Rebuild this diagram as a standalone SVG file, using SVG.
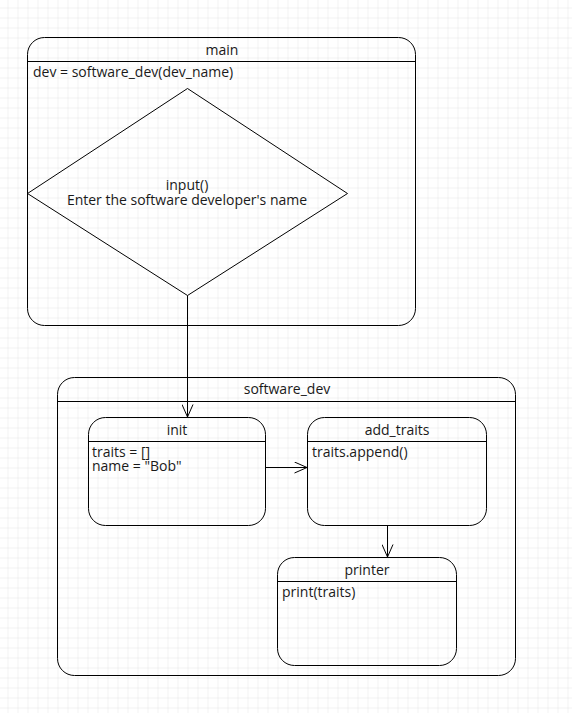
<svg xmlns="http://www.w3.org/2000/svg" width="572" height="713" viewBox="0 0 572 713">
  <defs>
    <pattern id="grid" x="7.5" y="7.5" width="10" height="10" patternUnits="userSpaceOnUse">
      <path d="M0,0 H10 M0,0 V10" fill="none" stroke="#e6e6e6" stroke-width="1"/>
    </pattern>
    <marker id="open-arrow" viewBox="0 0 14 12" refX="13" refY="6" markerWidth="14" markerHeight="12" markerUnits="userSpaceOnUse" orient="auto">
      <path d="M0.5,0.5 L13,6 L0.5,11.5" fill="none" stroke="#000" stroke-width="1"/>
    </marker>
  </defs>
  <style>
    .box { fill: none; stroke: #000; stroke-width: 1; }
    .sep { stroke: #000; stroke-width: 1; }
    .edge { fill: none; stroke: #000; stroke-width: 1; marker-end: url(#open-arrow); }
    text { font-family: "Open Sans", "Noto Sans", "DejaVu Sans", sans-serif; font-size: 14px; fill: #1a1a1a; }
    .title { text-anchor: middle; }
  </style>

  <rect x="0" y="0" width="572" height="713" fill="#ffffff"/>
  <rect x="0" y="0" width="572" height="713" fill="url(#grid)"/>

  <!-- main swimlane -->
  <g id="main">
    <rect class="box" x="27.5" y="37.5" width="388" height="288" rx="17" ry="17"/>
    <line class="sep" x1="27.5" y1="61.5" x2="415.5" y2="61.5"/>
    <text class="title" x="222" y="55">main</text>
    <text x="33" y="77">dev = software_dev(dev_name)</text>
  </g>

  <!-- input decision -->
  <g id="input">
    <polygon class="box" points="187.5,88.5 347.5,193.5 187.5,295.5 27.5,193.5"/>
    <text class="title" x="187" y="190">input()</text>
    <text class="title" x="187" y="205">Enter the software developer's name</text>
  </g>

  <!-- software_dev swimlane -->
  <g id="software_dev">
    <rect class="box" x="57.5" y="377.5" width="458" height="298" rx="17" ry="17"/>
    <line class="sep" x1="57.5" y1="401.5" x2="515.5" y2="401.5"/>
    <text class="title" x="287" y="394">software_dev</text>
  </g>

  <g id="init">
    <rect class="box" x="88.5" y="417.5" width="177" height="108" rx="17" ry="17"/>
    <line class="sep" x1="88.5" y1="441.5" x2="265.5" y2="441.5"/>
    <text class="title" x="177" y="435">init</text>
    <text x="92" y="457">traits = []</text>
    <text x="92" y="471">name = "Bob"</text>
  </g>

  <g id="add_traits">
    <rect class="box" x="307.5" y="417.5" width="179" height="108" rx="17" ry="17"/>
    <line class="sep" x1="307.5" y1="441.5" x2="486.5" y2="441.5"/>
    <text class="title" x="397" y="435">add_traits</text>
    <text x="312" y="457">traits.append()</text>
  </g>

  <g id="printer">
    <rect class="box" x="277.5" y="557.5" width="179" height="108" rx="17" ry="17"/>
    <line class="sep" x1="277.5" y1="581.5" x2="456.5" y2="581.5"/>
    <text class="title" x="367" y="575">printer</text>
    <text x="282" y="597">print(traits)</text>
  </g>

  <!-- connectors -->
  <g id="edges">
    <path class="edge" d="M187.5,295.5 V417"/>
    <path class="edge" d="M265.5,467.5 H307"/>
    <path class="edge" d="M387.5,525.5 V557"/>
  </g>
</svg>
